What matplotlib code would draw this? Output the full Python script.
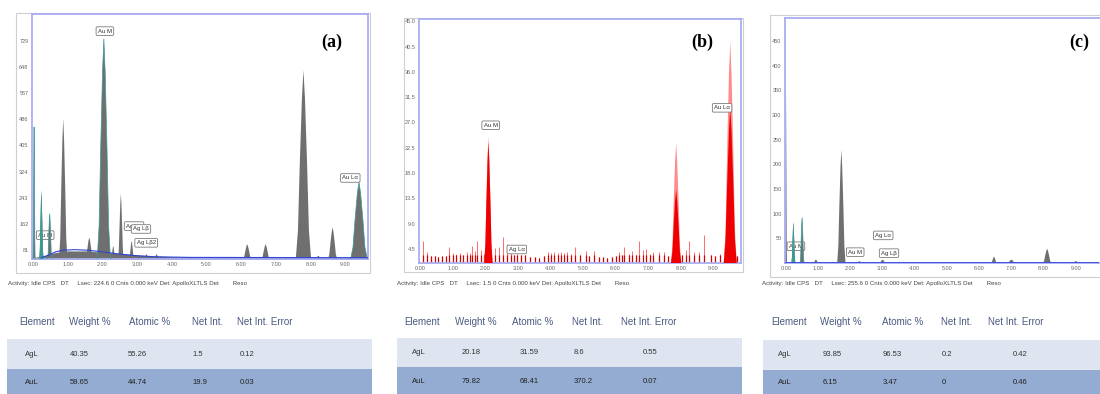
import matplotlib
matplotlib.use("Agg")
import matplotlib.pyplot as plt
from matplotlib.patches import Rectangle

# -----------------------------
# Data
# -----------------------------
xtick_keV = [0, 1, 2, 3, 4, 5, 6, 7, 8, 9]

# (a) peaks: energy (keV), counts, half base width (keV)
a_keV = [0.03, 0.24, 0.48, 0.87, 1.62, 2.04, 2.31, 2.53, 2.84, 3.27, 3.56, 6.17, 6.70, 7.79, 8.22, 8.63, 9.39]
a_counts = [462, 265, 193, 488, 120, 735, 94, 255, 110, 68, 68, 99, 99, 638, 63, 151, 291]
a_width = [0.03, 0.06, 0.06, 0.12, 0.11, 0.19, 0.06, 0.08, 0.07, 0.07, 0.07, 0.12, 0.12, 0.22, 0.09, 0.13, 0.24]
a_cont_keV = [0.0, 0.3, 0.6, 1.0, 1.5, 2.0, 2.5, 3.0, 3.5, 4.0, 5.0, 6.0, 7.0, 8.0, 9.0, 9.65]
a_cont_counts = [58, 62, 72, 78, 78, 74, 70, 66, 62, 60, 59, 58, 58, 58, 58, 58]
a_bkg_keV = [0.25, 0.45, 0.65, 0.85, 1.2, 1.6, 2.0, 2.5, 3.0, 3.5, 4.5, 9.65]
a_bkg_counts = [58, 65, 75, 80, 82, 80, 75, 68, 63, 60, 58, 57]
a_yticks = [81, 162, 243, 324, 405, 486, 567, 648, 729]

# (b) main peaks and the noisy single-channel spikes
b_keV = [2.10, 7.86, 9.52]
b_counts = [24.5, 23.3, 41.4]
b_core_counts = [23.5, 15.0, 29.5]
b_width = [0.13, 0.16, 0.20]
b_spike_keV = [0.08, 0.23, 0.34, 0.45, 0.55, 0.68, 0.80, 0.90, 1.02, 1.12, 1.22, 1.33, 1.45, 1.55,
               1.61, 1.68, 1.74, 1.86, 1.95, 2.30, 2.43, 2.55, 2.68, 2.78, 2.88, 2.98, 3.10, 3.22,
               3.38, 3.52, 3.66, 3.80, 3.92, 4.02, 4.12, 4.22, 4.32, 4.42, 4.52, 4.62, 4.76, 4.90,
               5.08, 5.20, 5.33, 5.50, 5.62, 5.75, 5.88, 6.00, 6.12, 6.20, 6.27, 6.40, 6.52, 6.62,
               6.73, 6.84, 6.94, 7.05, 7.16, 7.32, 7.49, 7.62, 8.05, 8.15, 8.25, 8.40, 8.56, 8.72,
               8.92, 9.05, 9.20, 9.72]
b_spike_counts = [6.0, 3.9, 3.3, 3.2, 3.1, 3.3, 3.2, 4.8, 3.7, 3.6, 3.8, 3.5, 3.9, 3.7,
                  5.1, 4.2, 6.0, 4.4, 3.6, 4.6, 4.8, 6.6, 5.4, 3.9, 3.5, 3.6, 3.4, 3.5,
                  3.0, 3.1, 2.9, 3.2, 3.9, 3.8, 3.9, 3.7, 3.9, 3.8, 3.9, 3.6, 4.8, 3.5,
                  4.2, 3.3, 4.1, 3.0, 3.1, 2.9, 3.0, 3.2, 3.9, 3.4, 4.9, 3.6, 4.1, 3.5,
                  6.0, 4.4, 4.5, 3.6, 3.9, 3.9, 3.9, 3.3, 3.5, 4.3, 6.0, 3.9, 3.9, 6.9,
                  3.4, 3.2, 3.6, 3.3]
b_yticks = [4.5, 9.0, 13.5, 18.0, 22.5, 27.0, 31.5, 36.0, 40.5, 45.0]

# (c) peaks
c_keV = [0.0, 0.23, 0.50, 0.93, 1.72, 2.28, 3.00, 6.46, 7.00, 8.11, 9.00]
c_counts = [352, 83, 92, 7, 230, 4, 7, 13, 7, 29, 4]
c_width = [0.03, 0.06, 0.06, 0.08, 0.13, 0.08, 0.10, 0.09, 0.12, 0.13, 0.10]
c_yticks = [50, 100, 150, 200, 250, 300, 350, 400, 450]

# quantification tables
table_cols = ["Element", "Weight %", "Atomic %", "Net Int.", "Net Int. Error"]
rows_a = [["AgL", "40.35", "55.26", "1.5", "0.12"], ["AuL", "59.65", "44.74", "19.9", "0.03"]]
rows_b = [["AgL", "20.18", "31.59", "8.6", "0.55"], ["AuL", "79.82", "68.41", "370.2", "0.07"]]
rows_c = [["AgL", "93.85", "96.53", "0.2", "0.42"], ["AuL", "6.15", "3.47", "0", "0.46"]]

status_a = "Activity: Idle CPS   DT     Lsec: 224.6 0 Cnts 0.000 keV Det: ApolloXLTLS Det        Reso"
status_b = "Activity: Idle CPS   DT     Lsec: 1.5 0 Cnts 0.000 keV Det: ApolloXLTLS Det        Reso"
status_c = "Activity: Idle CPS   DT     Lsec: 255.6 0 Cnts 0.000 keV Det: ApolloXLTLS Det        Reso"

# -----------------------------
# Figure + pixel helper
# -----------------------------
W, H = 1100, 394
plt.rcParams['font.family'] = ['Liberation Sans', 'DejaVu Sans']
fig = plt.figure(figsize=(11, 3.94), dpi=100)

bg = fig.add_axes([0, 0, 1, 1])
bg.set_xlim(0, W)
bg.set_ylim(H, 0)
bg.axis('off')


def px_axes(x0, y0, x1, y1):
    return fig.add_axes([x0 / W, 1 - y1 / H, (x1 - x0) / W, (y1 - y0) / H])


GRAY = '#6f6f6f'
TEAL = '#3a9a94'
FRAME = '#a9aef2'

# peak outline: fraction of height vs fraction of half-width (fuller than a triangle)
REL_H = [0, 0.15, 0.5, 0.85, 1]
REL_W = [1, 0.72, 0.48, 0.2, 0]


def peak_poly(c, h, w, base):
    xs = [c - w * r for r in REL_W] + [c + w * r for r in REL_W[::-1][1:]]
    ys = [base + (h - base) * f for f in REL_H] + [base + (h - base) * f for f in REL_H[::-1][1:]]
    return xs, ys


def style_axes(ax, xmax, ylim, yticks, yfmt):
    ax.set_xlim(-0.03, xmax)
    ax.set_ylim(*ylim)
    ax.set_xticks(xtick_keV)
    ax.set_xticklabels([f"{v:.2f}" for v in xtick_keV])
    ax.set_yticks(yticks)
    ax.set_yticklabels([yfmt.format(v) for v in yticks])
    ax.tick_params(length=0, labelsize=4, colors='#666666', pad=2.5)
    for s in ax.spines.values():
        s.set_color(FRAME)
        s.set_linewidth(1.3)
    ax.patch.set_alpha(0)


def peaks(ax, xs, ys, ws, base, color, z=2):
    for c, h, w in zip(xs, ys, ws):
        px, py = peak_poly(c, h, w, base)
        ax.fill(px, py, color=color, lw=0, zorder=z)


def outline(ax, c, h, w, base, color=TEAL, lw=0.5):
    px, py = peak_poly(c, h, w, base)
    ax.plot(px, py, color=color, lw=lw, zorder=3)


def tag(ax, x, y, s, z=5):
    ax.text(x, y, s, fontsize=4.3, ha='center', va='center', color='#333333', zorder=z,
            bbox=dict(boxstyle='round,pad=0.3,rounding_size=0.2', fc='white', ec='#7a7a7a', lw=0.6))


# -----------------------------
# Outer gray frames
# -----------------------------
for (x0, y0, w, h) in [(16, 13, 354, 260), (404, 18, 339, 254), (770, 15, 345, 262)]:
    bg.add_patch(Rectangle((x0, y0), w, h, fill=False, ec='#cfcfcf', lw=0.8))

# -----------------------------
# (a)
# -----------------------------
ax_a = px_axes(32, 14, 368, 259)
style_axes(ax_a, 9.65, (53, 812), a_yticks, "{:d}")
base_a = 53
tag(ax_a, 0.35, 127, "Au M", z=1)
ax_a.fill_between(a_cont_keV, base_a, a_cont_counts, color=GRAY, lw=0, zorder=2)
peaks(ax_a, a_keV, a_counts, a_width, base_a, GRAY)
for i in [0, 2, 5, 16]:
    outline(ax_a, a_keV[i], a_counts[i], a_width[i], base_a)
peaks(ax_a, [a_keV[1]], [a_counts[1]], [a_width[1]], base_a, TEAL, z=3)
ax_a.plot(a_bkg_keV, a_bkg_counts, color='#2e44d8', lw=0.8, zorder=4)
tag(ax_a, 2.07, 759, "Au M")
tag(ax_a, 9.14, 304, "Au Lα")
tag(ax_a, 2.91, 155, "Ag Lα")
tag(ax_a, 3.11, 146, "Ag Lβ")
tag(ax_a, 3.26, 103, "Ag Lβ2")

# -----------------------------
# (b)
# -----------------------------
ax_b = px_axes(419, 19, 741, 263)
style_axes(ax_b, 9.85, (2.0, 45.4), b_yticks, "{:.1f}")
base_b = 2.0
ax_b.vlines(b_spike_keV, base_b, b_spike_counts, color='#ff6b6b', lw=0.7, zorder=2)
ax_b.vlines(b_spike_keV, base_b, [min(v, 3.4) for v in b_spike_counts], color='#d40000', lw=0.9, zorder=2)
peaks(ax_b, b_keV, b_counts, b_width, base_b, '#ff8c8c')
peaks(ax_b, b_keV, b_core_counts, b_width, base_b, '#ee0000', z=3)
tag(ax_b, 2.17, 26.5, "Au M")
tag(ax_b, 9.27, 29.6, "Au Lα")
tag(ax_b, 2.97, 4.4, "Ag Lα")

# -----------------------------
# (c)
# -----------------------------
ax_c = px_axes(785, 18, 1099, 263)
style_axes(ax_c, 9.72, (0, 497), c_yticks, "{:d}")
ax_c.spines['right'].set_visible(False)
tag(ax_c, 0.31, 34, "Au M", z=1)
peaks(ax_c, c_keV, c_counts, c_width, 0, GRAY)
peaks(ax_c, [c_keV[1]], [c_counts[1]], [c_width[1]], 0, TEAL, z=3)
outline(ax_c, c_keV[2], c_counts[2], c_width[2], 0)
ax_c.axhline(2, color='#2e44d8', lw=0.6, zorder=4)
tag(ax_c, 2.15, 22, "Au M")
tag(ax_c, 3.02, 56, "Ag Lα")
tag(ax_c, 3.20, 20, "Ag Lβ")

# panel letters
for x, s in [(332, "(a)"), (702, "(b)"), (1079, "(c)")]:
    bg.text(x, 42, s, fontsize=13, fontweight='bold', family='Liberation Serif',
            ha='center', va='center', zorder=10)

# status lines
for x, s in [(8, status_a), (397, status_b), (762, status_c)]:
    bg.text(x, 284, s, fontsize=4.4, color='#444444', ha='left', va='center')

# -----------------------------
# Tables
# -----------------------------
tables = [
    (rows_a, [19, 69, 129, 192, 237], [25, 70, 128, 192, 240], 7, 372, 339, 369),
    (rows_b, [404, 455, 512, 572, 621], [412, 462, 520, 574, 643], 397, 742, 338, 367),
    (rows_c, [771, 820, 882, 941, 988], [778, 823, 883, 942, 1013], 763, 1100, 340, 370),
]
for rows, hx, vx, x0, x1, r1, r2 in tables:
    bg.add_patch(Rectangle((x0, r1), x1 - x0, r2 - r1, fc='#dfe5f0', ec='none'))
    bg.add_patch(Rectangle((x0, r2), x1 - x0, H - r2 + 2, fc='#94acd1', ec='none'))
    for x, s in zip(hx, table_cols):
        bg.text(x, 322, s, fontsize=7, color='#4a5a80', ha='left', va='center')
    for x, s in zip(vx, rows[0]):
        bg.text(x, (r1 + r2) / 2, s, fontsize=5.5, color='#333333', ha='left', va='center')
    for x, s in zip(vx, rows[1]):
        bg.text(x, (r2 + H) / 2 + 1, s, fontsize=5.5, color='#222222', ha='left', va='center')

fig.savefig("out.png", dpi=100)
